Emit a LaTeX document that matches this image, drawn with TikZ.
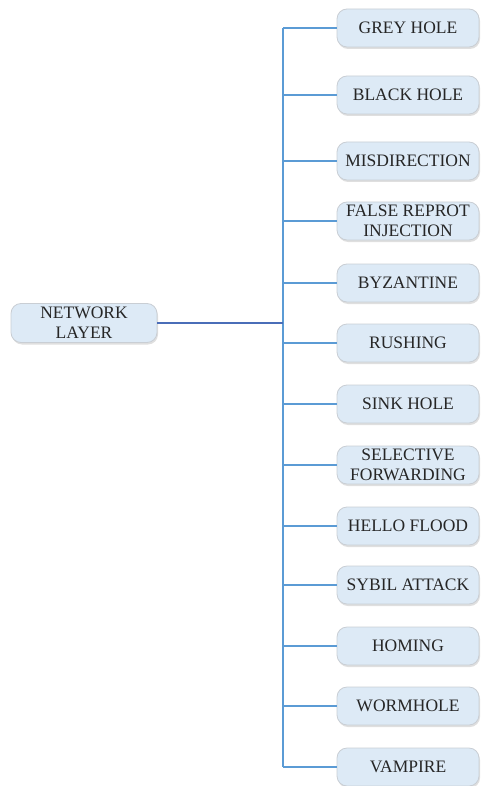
\documentclass[tikz,border=0pt]{standalone}
\usepackage{fontspec}
\setmainfont{Liberation Serif}
\usetikzlibrary{shadows}
\definecolor{boxfill}{HTML}{DDEAF6}
\definecolor{boxline}{HTML}{C9CED4}
\definecolor{linkc}{HTML}{5B9BD5}
\definecolor{mainc}{HTML}{4A6DB8}
\definecolor{txt}{HTML}{262626}
\begin{document}
\begin{tikzpicture}[x=1pt,y=-1pt,
  attack/.style={draw=boxline, line width=0.8pt, fill=boxfill, rounded corners=10pt,
    minimum width=142pt, minimum height=38pt, inner sep=0pt, align=center,
    text=txt, font=\fontsize{17.5}{20}\selectfont,
    drop shadow={shadow xshift=1pt, shadow yshift=-2pt, opacity=0.25, fill=gray}},
  link/.style={draw=linkc, line width=1.2pt}]
\useasboundingbox (0,0) rectangle (481,786);
\node[attack, minimum width=146pt, minimum height=39pt] (net) at (84,323) {NETWORK\\LAYER};
\coordinate (top) at (283,28);
\coordinate (bot) at (283,767);
\coordinate (mid) at (283,323);
\foreach \n/\y/\t in {a/28/GREY HOLE, b/95/BLACK HOLE, c/161/MISDIRECTION,
  d/221/{FALSE REPROT\\INJECTION}, e/283/BYZANTINE, f/343/RUSHING, g/404/SINK HOLE,
  h/465/{SELECTIVE\\FORWARDING}, i/526/HELLO FLOOD, j/585/SYBIL ATTACK,
  k/646/HOMING, l/706/WORMHOLE, m/767/VAMPIRE}{
  \node[attack] (\n) at (408,\y) {\t};
  \coordinate (j\n) at (283,\y);
  \draw[link] (j\n) -- (\n.west);
}
\draw[link] (top) -- (bot);
\draw[draw=mainc, line width=1.2pt] (net.east) -- (mid);
\end{tikzpicture}
\end{document}
